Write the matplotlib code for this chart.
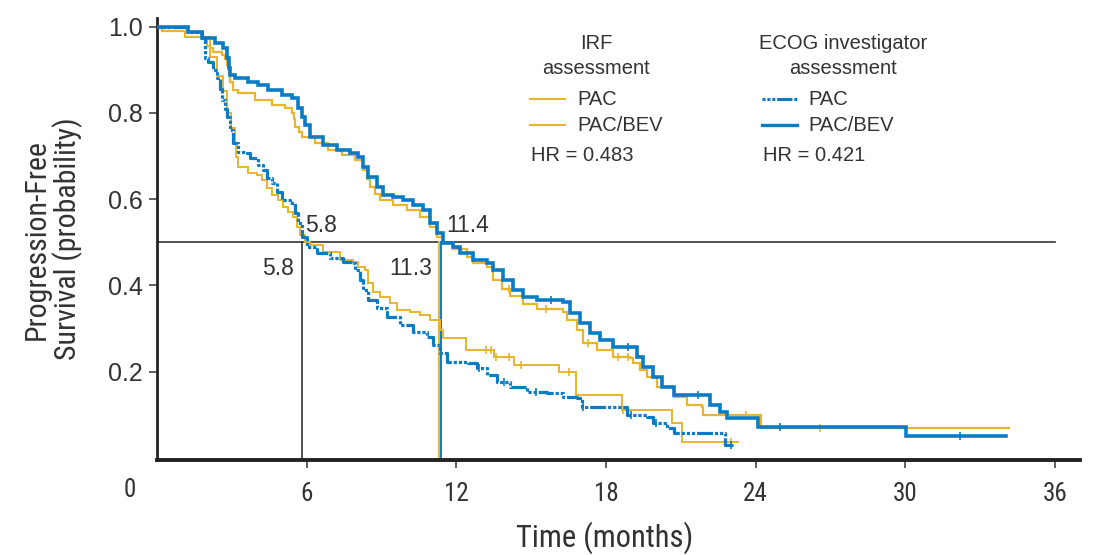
import os
import numpy as np
import matplotlib
matplotlib.use("Agg")
import matplotlib.pyplot as plt
from matplotlib import font_manager as fm

# colours
yellow = "#E8B52C"
blue = "#0A7BC4"
ink = "#333333"

plt.rcParams["font.family"] = ["Liberation Sans", "DejaVu Sans"]


def find_narrow():
    # look for an installed narrow / condensed regular face
    found = {}
    skip = ("bold", "italic", "oblique", "light", "thin", "black", "medium", "semi", "extra")
    for f in fm.fontManager.ttflist:
        base = os.path.basename(f.fname).lower()
        if ("condensed" in base or "narrow" in base) and not any(k in base for k in skip):
            found[base] = f.fname
    for key in ("liberationsansnarrow", "robotocondensed", "roboto", "notosans", "opensans", "dejavusans"):
        for base, path in sorted(found.items()):
            if base.replace("-", "").replace("_", "").startswith(key):
                return fm.FontProperties(fname=path)
    if found:
        return fm.FontProperties(fname=sorted(found.values())[0])
    return fm.FontProperties(family="Liberation Sans")


narrow = find_narrow()

# ---- Kaplan-Meier step knots (months, probability) ----
# IRF assessment, PAC
irf_pac_t = [0, 0.2, 1.12, 2.0, 2.13, 2.41, 2.65, 2.81, 2.97, 3.13, 3.17, 3.25, 3.65, 4.01,
             4.21, 4.41, 4.61, 4.86, 5.06, 5.26, 5.46, 5.62, 5.74, 5.94, 6.14, 6.66, 7.34,
             7.86, 8.07, 8.35, 8.47, 8.67, 8.95, 9.35, 9.63, 10.15, 10.55, 10.96, 11.36,
             11.48, 12.4, 13.52, 14.33, 16.13, 16.81, 18.66, 20.63, 21.07, 23.29]
irf_pac_s = [1.0, 0.99, 0.976, 0.955, 0.93, 0.885, 0.85, 0.80, 0.765, 0.73, 0.698, 0.674, 0.66,
             0.656, 0.644, 0.626, 0.609, 0.598, 0.582, 0.57, 0.559, 0.535, 0.517, 0.50, 0.494,
             0.477, 0.459, 0.454, 0.443, 0.436, 0.406, 0.385, 0.373, 0.359, 0.343, 0.338,
             0.331, 0.32, 0.297, 0.278, 0.25, 0.234, 0.216, 0.20, 0.146, 0.111, 0.081, 0.037,
             0.037]
irf_pac_cens = [13.2, 13.4, 13.6, 14.1, 14.6, 16.5, 18.7, 23.0]

# IRF assessment, PAC/BEV
irf_bev_t = [0, 0.2, 1.12, 2.13, 2.25, 2.61, 2.72, 2.81, 2.87, 2.93, 3.05, 3.25, 3.93, 4.61,
             5.14, 5.42, 5.48, 5.54, 5.68, 5.82, 6.34, 6.86, 7.42, 7.95, 8.27, 8.41, 8.55,
             8.75, 8.95, 9.47, 10.03, 10.55, 10.96, 11.24, 11.48, 11.88, 12.44, 12.68, 13.24,
             13.48, 13.84, 14.17, 14.69, 15.25, 16.29, 16.45, 16.85, 17.09, 17.66, 18.30,
             18.98, 19.10, 19.38, 19.66, 20.06, 20.71, 21.27, 21.87, 21.91, 24.20, 34.15]
irf_bev_s = [1.0, 0.99, 0.976, 0.95, 0.941, 0.934, 0.925, 0.911, 0.89, 0.871, 0.853, 0.846,
             0.83, 0.818, 0.811, 0.80, 0.785, 0.767, 0.755, 0.744, 0.73, 0.714, 0.702, 0.69,
             0.667, 0.648, 0.628, 0.612, 0.598, 0.586, 0.575, 0.559, 0.535, 0.512, 0.498,
             0.484, 0.466, 0.452, 0.443, 0.413, 0.392, 0.375, 0.357, 0.345, 0.338, 0.32,
             0.297, 0.266, 0.25, 0.235, 0.232, 0.22, 0.204, 0.188, 0.165, 0.141, 0.123, 0.118,
             0.10, 0.07, 0.07]
irf_bev_cens = [14.1, 15.6, 17.3, 18.5, 18.9, 23.6, 26.6]

# ECOG investigator assessment, PAC
ecog_pac_t = [0, 1.24, 1.81, 1.93, 2.05, 2.25, 2.41, 2.51, 2.61, 2.71, 2.81, 2.93, 3.05, 3.25,
              3.53, 3.73, 4.05, 4.25, 4.41, 4.61, 4.82, 5.02, 5.34, 5.54, 5.66, 5.82, 6.02,
              6.42, 6.94, 7.46, 7.82, 7.95, 8.15, 8.27, 8.47, 8.83, 9.23, 9.75, 10.27, 10.83,
              11.08, 11.36, 11.64, 12.48, 12.84, 13.24, 13.64, 14.17, 14.85, 15.65, 16.29,
              16.85, 17.05, 18.86, 19.66, 19.90, 20.45, 20.71, 22.79, 23.11]
ecog_pac_s = [1.0, 0.987, 0.973, 0.927, 0.918, 0.90, 0.88, 0.855, 0.83, 0.81, 0.79, 0.76,
              0.73, 0.709, 0.707, 0.695, 0.679, 0.667, 0.649, 0.637, 0.616, 0.598, 0.591,
              0.568, 0.545, 0.512, 0.489, 0.475, 0.463, 0.454, 0.452, 0.436, 0.413, 0.389,
              0.366, 0.348, 0.327, 0.308, 0.292, 0.28, 0.262, 0.243, 0.222, 0.22, 0.209,
              0.192, 0.176, 0.165, 0.153, 0.151, 0.141, 0.139, 0.118, 0.10, 0.095, 0.081,
              0.07, 0.058, 0.03, 0.03]
ecog_pac_cens = [12.9, 13.9, 15.2, 17.1, 19.0, 20.0, 23.0]

# ECOG investigator assessment, PAC/BEV
ecog_bev_t = [0, 1.24, 1.81, 2.33, 2.65, 2.81, 2.87, 2.93, 3.13, 3.65, 4.05, 4.45, 5.02, 5.42,
              5.66, 5.80, 5.94, 6.14, 6.66, 7.22, 7.74, 8.07, 8.27, 8.47, 8.83, 9.07, 9.47,
              9.87, 10.27, 10.67, 10.96, 11.24, 11.48, 11.88, 12.16, 12.68, 13.24, 13.48,
              13.88, 14.29, 14.69, 15.25, 16.29, 16.57, 16.97, 17.38, 17.78, 18.30, 19.10,
              19.26, 19.50, 19.90, 20.26, 20.71, 22.19, 22.59, 22.87, 24.08, 30.02, 34.03]
ecog_bev_s = [1.0, 0.987, 0.973, 0.962, 0.95, 0.927, 0.905, 0.888, 0.88, 0.871, 0.864, 0.853,
              0.841, 0.834, 0.811, 0.79, 0.772, 0.744, 0.725, 0.714, 0.707, 0.698, 0.674,
              0.651, 0.628, 0.609, 0.605, 0.598, 0.586, 0.575, 0.545, 0.521, 0.498, 0.489,
              0.475, 0.459, 0.452, 0.436, 0.413, 0.389, 0.373, 0.366, 0.362, 0.336, 0.313,
              0.29, 0.273, 0.257, 0.257, 0.234, 0.211, 0.188, 0.165, 0.146, 0.123, 0.106,
              0.093, 0.072, 0.05, 0.05]
ecog_bev_cens = [15.8, 18.9, 21.7, 25.0, 32.2]

# medians and hazard ratios
median_pac = 5.8
median_irf_bev = 11.3
median_ecog_bev = 11.4
hr_irf = "0.483"
hr_ecog = "0.421"

x_ticks = [6, 12, 18, 24, 30, 36]
y_ticks = [0.2, 0.4, 0.6, 0.8, 1.0]

pac_dash = (0, (1, 0.6, 1, 0.6, 1, 0.6, 5, 0.6))


def km(ax, t, s, cens, color, lw, ls="-"):
    ax.step(t, s, where="post", color=color, lw=lw, linestyle=ls,
            solid_joinstyle="miter", zorder=3)
    idx = np.searchsorted(t, cens, side="right") - 1
    ax.plot(cens, np.asarray(s)[idx], linestyle="none", marker="|",
            markersize=6, markeredgewidth=1.2, color=color, zorder=3)


fig = plt.figure(figsize=(10.94, 5.55), dpi=100)
ax = fig.add_axes([0.1435, 0.171, 0.8435, 0.7964])

km(ax, irf_pac_t, irf_pac_s, irf_pac_cens, yellow, 1.4)
km(ax, irf_bev_t, irf_bev_s, irf_bev_cens, yellow, 1.6)
km(ax, ecog_pac_t, ecog_pac_s, ecog_pac_cens, blue, 2.3, pac_dash)
km(ax, ecog_bev_t, ecog_bev_s, ecog_bev_cens, blue, 2.6)

# median reference lines
ax.plot([0, 36], [0.5, 0.5], color=ink, lw=1.2, zorder=2)
ax.plot([median_pac, median_pac], [0, 0.5], color=ink, lw=1.2, zorder=2)
ax.plot([median_irf_bev, median_irf_bev], [0, 0.5], color=yellow, lw=1.6, zorder=2)
ax.plot([median_ecog_bev, median_ecog_bev], [0, 0.5], color=blue, lw=1.4, zorder=2)

lab = dict(fontsize=16.5, color=ink)
ax.text(median_pac + 0.15, 0.512, f"{median_pac}", ha="left", va="bottom", **lab)
ax.text(median_pac - 0.3, 0.44, f"{median_pac}", ha="right", va="center", **lab)
ax.text(median_irf_bev - 0.25, 0.44, f"{median_irf_bev}", ha="right", va="center", **lab)
ax.text(median_ecog_bev + 0.2, 0.512, f"{median_ecog_bev}", ha="left", va="bottom", **lab)

# legend, drawn by hand in two columns
leg = dict(fontsize=14.5, color=ink)
ax.text(17.6, 0.932, "IRF\nassessment", ha="center", va="center", linespacing=1.4, **leg)
ax.text(27.5, 0.932, "ECOG investigator\nassessment", ha="center", va="center",
        linespacing=1.4, **leg)
ax.plot([14.95, 16.35], [0.832, 0.832], color=yellow, lw=1.5)
ax.plot([14.95, 16.35], [0.772, 0.772], color=yellow, lw=1.5)
ax.plot([24.25, 25.65], [0.832, 0.832], color=blue, lw=2.2, linestyle=pac_dash)
ax.plot([24.25, 25.65], [0.772, 0.772], color=blue, lw=2.4)
for x0 in (16.85, 26.1):
    ax.text(x0, 0.832, "PAC", ha="left", va="center", **leg)
    ax.text(x0, 0.772, "PAC/BEV", ha="left", va="center", **leg)
ax.text(15.0, 0.702, f"HR = {hr_irf}", ha="left", va="center", **leg)
ax.text(24.3, 0.702, f"HR = {hr_ecog}", ha="left", va="center", **leg)

ax.set_xlim(0, 37.0)
ax.set_ylim(-0.005, 1.02)
ax.set_xticks(x_ticks)
ax.set_xticklabels([str(v) for v in x_ticks], fontproperties=narrow, fontsize=18, color=ink)
ax.set_yticks(y_ticks)
ax.set_yticklabels([f"{v:.1f}" for v in y_ticks], fontsize=18, color=ink)
ax.tick_params(axis="x", length=6, width=1.1, pad=10, color=ink)
ax.tick_params(axis="y", length=6, width=1.1, pad=4, color=ink)
ax.text(-1.08, -0.074, "0", ha="center", va="center", fontproperties=narrow,
        fontsize=18, color=ink)

for side in ("top", "right"):
    ax.spines[side].set_visible(False)
ax.spines["left"].set_linewidth(2.0)
ax.spines["bottom"].set_linewidth(2.8)
ax.spines["left"].set_color("#222222")
ax.spines["bottom"].set_color("#222222")

ax.set_xlabel("Time (months)", fontproperties=narrow, fontsize=22, color=ink,
              ha="center", va="center")
ax.xaxis.set_label_coords(0.485, -0.176)
ax.set_ylabel("Progression-Free\nSurvival (probability)", fontproperties=narrow,
              fontsize=21.5, color=ink, linespacing=1.08, ha="center", va="center")
ax.yaxis.set_label_coords(-0.113, 0.5)

fig.savefig("out.png", dpi=100)
